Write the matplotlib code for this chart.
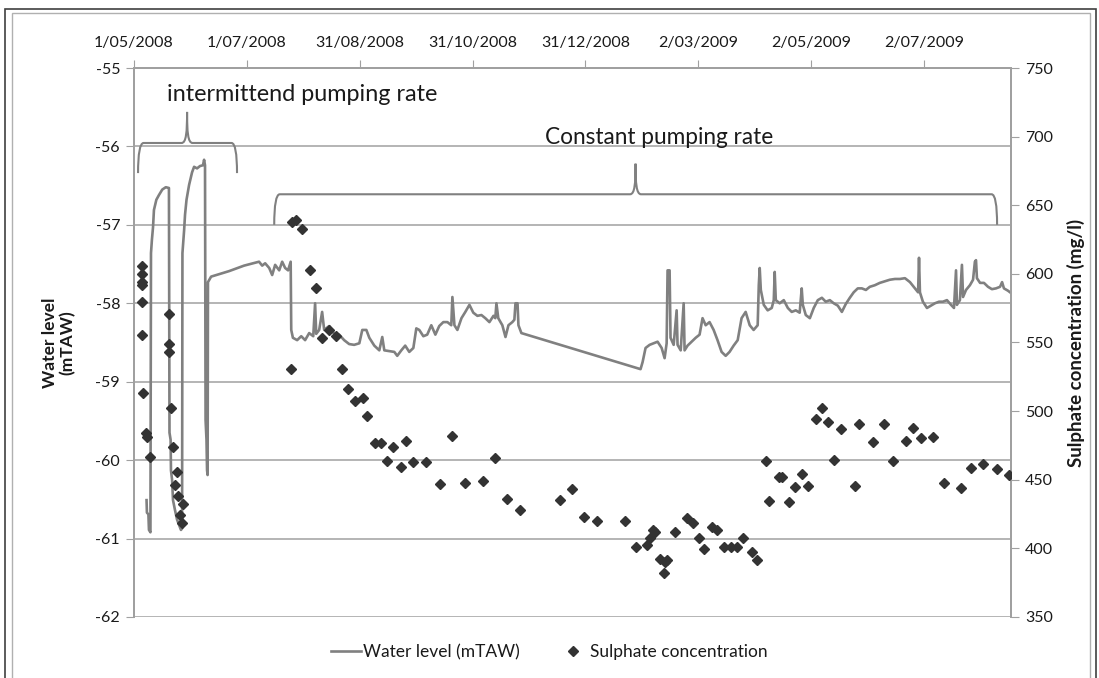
import pandas as pd
import matplotlib
matplotlib.use("Agg")
import matplotlib.pyplot as plt
import matplotlib.dates as mdates
from matplotlib.path import Path
from matplotlib.patches import PathPatch, Rectangle
from matplotlib.lines import Line2D

plt.rcParams['font.family'] = ['Lato', 'DejaVu Sans']
plt.rcParams['axes.unicode_minus'] = False

START = pd.Timestamp("2008-05-01")

# water level (mTAW), x = days since 1/05/2008
wl_day = [6.8, 7.0, 7.8, 8.1, 8.9, 9.2, 9.7, 10.3, 10.8, 12.1, 13.5, 15.3, 17.2, 18.9,
          19.2, 19.8, 20.0, 20.6, 21.1, 22.2, 23.3, 24.4, 25.4, 26.0, 26.2, 27.1, 27.6,
          28.4, 29.8, 31.4, 32.5, 34.1, 35.7, 37.3, 37.9, 38.4, 38.7, 39.2, 39.5, 39.8,
          40.0, 41.7, 51.4, 59.5, 67.6, 69.3, 70.9, 73.1, 74.7, 76.3, 78.5, 80.1, 81.7,
          83.3, 84.7, 85.0, 85.9, 88.2, 90.4, 92.5, 94.7, 96.9, 97.9, 98.5, 100.1, 101.7,
          102.8, 105.5, 108.2, 110.9, 113.6, 116.3, 119.0, 121.8, 123.4, 125.6, 127.2,
          129.9, 132.6, 134.2, 135.3, 138.0, 140.7, 142.3, 144.5, 146.6, 148.8, 151.0,
          152.6, 154.2, 156.4, 158.5, 160.7, 162.9, 165.0, 167.2, 169.4, 171.5, 172.1,
          173.2, 174.8, 177.0, 179.1, 181.3, 183.4, 185.6, 187.8, 189.9, 192.1, 194.3,
          195.3, 195.9, 196.9, 199.1, 200.8, 202.4, 204.5, 205.6, 206.2, 207.3, 207.8,
          209.4, 273.8, 274.9, 276.5, 278.7, 280.8, 283.0, 285.2, 286.8, 287.9, 288.4,
          289.5, 290.0, 291.7, 293.3, 293.8, 295.5, 297.1, 297.6, 299.2, 301.4, 303.6,
          305.7, 307.3, 309.0, 311.1, 313.3, 315.4, 317.6, 319.8, 321.9, 324.1, 326.3,
          328.4, 330.6, 332.8, 334.9, 337.1, 337.7, 338.2, 338.8, 340.4, 342.5, 344.7,
          345.8, 346.3, 346.9, 349.0, 351.2, 353.4, 355.5, 357.7, 359.8, 360.9, 361.5,
          363.1, 365.3, 367.4, 369.6, 371.8, 373.9, 376.1, 378.2, 380.4, 382.6, 384.7,
          386.9, 389.0, 391.2, 393.4, 395.6, 397.7, 400.4, 403.1, 405.8, 408.5, 411.3,
          414.0, 416.7, 419.4, 422.1, 423.8, 424.3, 424.8, 426.4, 428.6, 430.7, 432.9,
          435.1, 437.2, 439.4, 441.6, 443.2, 444.3, 444.8, 446.4, 447.5, 448.1, 449.7,
          451.8, 453.5, 454.5, 455.1, 455.6, 457.3, 459.4, 461.6, 463.7, 465.9, 468.1,
          469.2, 470.2, 472.4, 473.5]
wl_level = [-60.51, -60.67, -60.69, -60.89, -60.92, -57.36, -57.19, -57.03, -56.81, -56.68,
            -56.62, -56.55, -56.52, -56.53, -59.65, -59.74, -60.13, -60.25, -60.51, -60.64,
            -60.76, -60.83, -60.89, -60.87, -57.36, -57.07, -56.87, -56.68, -56.49, -56.33,
            -56.26, -56.28, -56.25, -56.24, -56.17, -56.24, -59.49, -59.74, -60.13, -60.19,
            -57.73, -57.66, -57.59, -57.52, -57.47, -57.52, -57.49, -57.55, -57.64, -57.51,
            -57.58, -57.47, -57.55, -57.58, -57.47, -58.34, -58.44, -58.47, -58.42, -58.47,
            -58.38, -58.42, -58.00, -58.39, -58.34, -58.11, -58.34, -58.29, -58.39, -58.40,
            -58.47, -58.52, -58.53, -58.51, -58.34, -58.34, -58.44, -58.54, -58.60, -58.43,
            -58.60, -58.61, -58.62, -58.67, -58.60, -58.54, -58.62, -58.57, -58.32, -58.34,
            -58.42, -58.40, -58.28, -58.40, -58.29, -58.24, -58.24, -58.28, -57.92, -58.28,
            -58.34, -58.19, -58.11, -58.02, -58.12, -58.16, -58.15, -58.19, -58.24, -58.16,
            -58.19, -58.00, -58.19, -58.28, -58.43, -58.28, -58.24, -58.21, -58.00, -58.00,
            -58.28, -58.38, -58.84, -58.75, -58.57, -58.53, -58.51, -58.49, -58.57, -58.70,
            -58.51, -57.58, -57.58, -58.44, -58.53, -58.09, -58.53, -58.60, -58.00, -58.60,
            -58.54, -58.49, -58.44, -58.40, -58.19, -58.28, -58.24, -58.34, -58.47, -58.62,
            -58.67, -58.62, -58.54, -58.47, -58.19, -58.11, -58.28, -58.34, -58.28, -57.77,
            -57.55, -57.83, -58.02, -58.09, -58.06, -57.96, -57.60, -57.96, -58.00, -57.96,
            -58.06, -58.11, -58.09, -58.12, -57.81, -58.02, -58.15, -58.19, -58.06, -57.96,
            -57.93, -57.98, -57.96, -58.00, -58.03, -58.11, -58.01, -57.93, -57.86, -57.81,
            -57.81, -57.83, -57.79, -57.77, -57.74, -57.72, -57.70, -57.69, -57.69, -57.68,
            -57.73, -57.81, -57.86, -57.42, -57.86, -57.98, -58.06, -58.03, -58.00, -57.98,
            -57.98, -57.96, -58.02, -58.06, -57.58, -58.02, -57.96, -57.51, -57.92, -57.83,
            -57.77, -57.70, -57.47, -57.45, -57.68, -57.74, -57.74, -57.79, -57.82, -57.81,
            -57.79, -57.73, -57.81, -57.84, -57.86]

# sulphate concentration (mg/l), x = days since 1/05/2008
sul_day = [4.3, 4.3, 4.3, 4.3, 4.3, 4.3, 4.9, 6.5, 7.0, 8.7,
           18.9, 18.9, 18.9, 20.0, 21.1, 23.3, 22.2, 23.8, 26.5, 24.9, 26.0,
           85.0, 85.5, 87.7, 90.9, 95.2, 98.5, 105.5, 101.7, 109.3, 112.6, 115.8, 119.6,
           123.9, 126.1, 130.4, 133.7, 140.2, 136.9, 147.2, 144.5, 151.0, 158.0, 165.6,
           172.1, 179.1, 188.9, 195.3, 201.8, 208.9, 230.0, 236.5, 243.0, 250.0, 265.2,
           271.1, 277.1, 278.7, 280.3, 281.4, 284.1, 286.8, 287.9, 286.3, 292.2, 298.7,
           301.9, 305.2, 307.9, 312.2, 315.0, 318.7, 322.5, 325.8, 329.0, 333.9, 336.6,
           341.4, 343.1, 348.5, 350.1, 353.9, 357.1, 360.9, 364.2, 368.5, 371.8, 375.0,
           378.2, 382.0, 389.6, 391.8, 399.4, 405.3, 410.2, 417.2, 421.0, 425.3, 431.8,
           437.8, 447.0, 452.4, 458.9, 466.5, 473.0]
sul_mgl = [605.7, 600.0, 594.1, 591.9, 579.5, 555.5, 513.2, 484.1, 481.1, 466.6,
           570.8, 548.9, 543.1, 502.3, 473.9, 455.6, 446.2, 438.2, 432.3, 424.3, 418.5,
           530.7, 637.8, 639.3, 632.7, 602.8, 589.7, 559.1, 553.3, 554.7, 530.7, 516.1, 507.4,
           509.6, 496.4, 476.8, 476.8, 473.9, 463.7, 478.2, 459.3, 462.9, 462.9, 446.9,
           481.9, 447.6, 449.1, 465.9, 435.9, 427.9, 435.2, 443.3, 422.9, 419.9, 419.9,
           401.0, 402.5, 407.6, 413.4, 412.0, 392.3, 390.1, 391.5, 382.1, 412.0, 422.1,
           418.5, 407.6, 399.5, 415.6, 413.4, 401.0, 401.0, 401.0, 407.6, 397.4, 391.5,
           463.7, 434.5, 452.0, 452.0, 433.8, 444.7, 454.2, 445.4, 494.3, 502.3, 492.1,
           464.4, 486.9, 445.4, 490.6, 477.5, 490.6, 463.7, 478.2, 487.7, 480.4, 481.1,
           447.6, 444.0, 458.6, 461.5, 457.8, 453.5]

wl_dates = START + pd.to_timedelta(wl_day, unit="D")
sul_dates = START + pd.to_timedelta(sul_day, unit="D")

LINE_GREY = "#808080"
GRID_GREY = "#a0a0a0"
TXT = "#1a1a1a"

fig = plt.figure(figsize=(10.99, 6.78), dpi=100)
ax = fig.add_axes([0.1219, 0.0900, 0.798, 0.8097])
ax2 = ax.twinx()

ax.plot(wl_dates, wl_level, color=LINE_GREY, lw=1.9, label="Water level (mTAW)", zorder=3)
ax2.plot(sul_dates, sul_mgl, ls="none", marker="D", ms=5.6, color="#333333",
         label="Sulphate concentration", zorder=4)

ax.set_ylim(-62, -55)
ax.set_yticks(range(-62, -54))
ax2.set_ylim(350, 750)
ax2.set_yticks(range(350, 751, 50))
ax.set_xlim(START, START + pd.Timedelta(days=474))

# top date axis, every 61 days
ticks = [START + pd.Timedelta(days=61 * k) for k in range(8)]
ax.set_xticks(ticks)
ax.xaxis.set_major_formatter(
    plt.FuncFormatter(lambda v, p: (lambda d: f"{d.day}/{d.month:02d}/{d.year}")(mdates.num2date(v))))
ax.xaxis.tick_top()
ax.tick_params(axis="x", direction="out", length=6, pad=7, color=GRID_GREY,
               labelsize=11.5, labelcolor=TXT)
ax.tick_params(axis="y", direction="out", length=6, pad=4, color=GRID_GREY,
               labelsize=11.5, labelcolor=TXT)
ax2.tick_params(axis="y", direction="out", length=6, pad=4, color=GRID_GREY,
                labelsize=11.5, labelcolor=TXT)

ax.grid(axis="y", color=GRID_GREY, lw=1.1)
ax.set_axisbelow(True)
for a in (ax, ax2):
    for side in ("left", "right", "top"):
        a.spines[side].set_color(GRID_GREY)
        a.spines[side].set_linewidth(1.3)
    a.spines["bottom"].set_visible(False)

ax.set_ylabel("Water level\n(mTAW)", fontsize=12.5, fontweight="bold", color=TXT,
              labelpad=14, linespacing=1.1)
ax2.set_ylabel("Sulphate concentration (mg/l)", fontsize=13.5, fontweight="bold", color=TXT,
               labelpad=10)


def brace(x0, x1, xm, ybase, yend, ypeak, rx):
    x0, x1, xm = (mdates.date2num(START + pd.Timedelta(days=v)) for v in (x0, x1, xm))
    h = ypeak - ybase
    verts = [(x0, yend), (x0, ybase), (x0 + rx, ybase),
             (xm - rx, ybase),
             (xm - rx * 0.15, ybase), (xm, ybase + h * 0.35), (xm, ypeak),
             (xm, ybase + h * 0.35), (xm + rx * 0.15, ybase), (xm + rx, ybase),
             (x1 - rx, ybase), (x1, ybase), (x1, yend)]
    codes = [Path.MOVETO, Path.CURVE3, Path.CURVE3, Path.LINETO,
             Path.CURVE4, Path.CURVE4, Path.CURVE4,
             Path.CURVE4, Path.CURVE4, Path.CURVE4,
             Path.LINETO, Path.CURVE3, Path.CURVE3]
    ax.add_patch(PathPatch(Path(verts, codes), fill=False, ec=LINE_GREY, lw=1.5,
                           zorder=2, clip_on=False))


brace(2.2, 55.7, 28.7, -55.956, -56.34, -55.56, 3.0)
brace(75.8, 466.5, 271.1, -56.61, -57.0, -56.22, 3.0)

ax.text(START + pd.Timedelta(days=17.9), -55.34, "intermittend pumping rate",
        fontsize=16.8, color=TXT, va="center", ha="left")
ax.text(START + pd.Timedelta(days=221.9), -55.88, "Constant pumping rate",
        fontsize=16.3, color=TXT, va="center", ha="left")

handles = [Line2D([], [], color=LINE_GREY, lw=1.9),
           Line2D([], [], ls="none", marker="D", ms=5, color="#333333")]
fig.legend(handles, ["Water level (mTAW)", "Sulphate concentration"], loc="center",
           bbox_to_anchor=(0.5, 1 - 652 / 678), ncol=2, frameon=False, fontsize=12.5,
           handlelength=1.7, handletextpad=0.15, columnspacing=2.2, labelcolor=TXT)

# chart border
fig.patches.append(Rectangle((5 / 1099, -0.01), 1091 / 1099, 1 - 9 / 678 + 0.01,
                             transform=fig.transFigure, fill=False, ec="#404040", lw=1.2))
fig.patches.append(Rectangle((12 / 1099, -0.01), 1078 / 1099, 1 - 13 / 678 + 0.01,
                             transform=fig.transFigure, fill=False, ec="#b0b0b0", lw=1.0))

fig.savefig("out.png", dpi=100)
